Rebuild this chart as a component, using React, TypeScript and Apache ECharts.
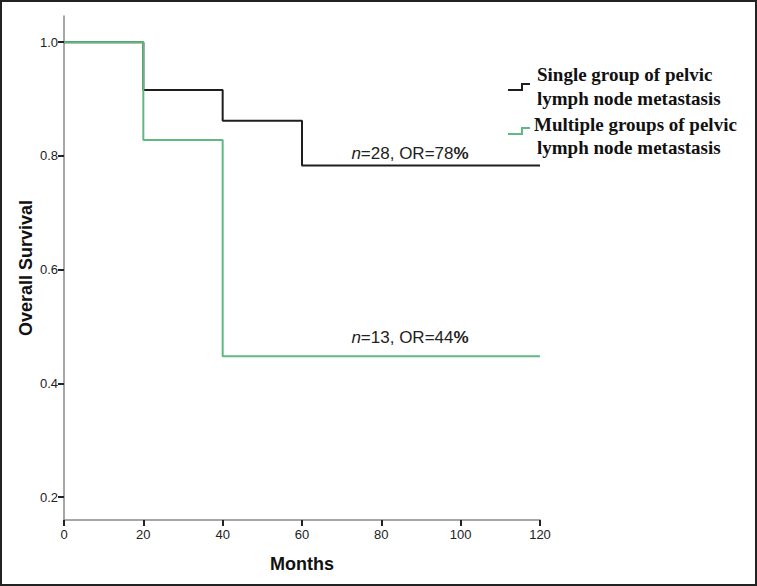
import React, { useEffect, useRef } from "react";
import * as echarts from "echarts";

const singleMonths = [0, 20, 40, 60, 120];
const singleSurvival = [1.0, 0.916, 0.862, 0.783, 0.783];
const multipleMonths = [0, 20, 40, 120];
const multipleSurvival = [1.0, 0.828, 0.448, 0.448];
const xTicks = [0, 20, 40, 60, 80, 100, 120];
const yTicks = [0.2, 0.4, 0.6, 0.8, 1.0];
const legendNames = [
  ["Single group of pelvic", "lymph node metastasis"],
  ["Multiple groups of pelvic", "lymph node metastasis"],
];
const annotations = [
  { n: "28", or: "78" },
  { n: "13", or: "44" },
];

const BLACK = "#1e1e1e";
const GREEN = "#62b883";

export default function App() {
  const ref = useRef<HTMLDivElement>(null);
  useEffect(() => {
    if (!ref.current) return;
    const chart = echarts.init(ref.current, null, { renderer: "svg" });
    const sans = "'Liberation Sans', Arial, sans-serif";
    const serif = "'Liberation Serif', 'Times New Roman', serif";
    const legendText = (t: string, x: number, y: number) => ({
      type: "text",
      x,
      y,
      style: { text: t, font: `bold 19px ${serif}`, fill: "#111", textVerticalAlign: "middle" },
    });
    const annot = (a: { n: string; or: string }, y: number) => ({
      type: "text",
      x: 410,
      y,
      style: {
        text: `{i|n}{r|=${a.n}, OR=${a.or}}{b|%}`,
        textAlign: "center",
        textVerticalAlign: "middle",
        rich: {
          i: { fontStyle: "italic", fontSize: 17, fontFamily: sans, fill: "#222" },
          r: { fontSize: 17, fontFamily: sans, fill: "#222" },
          b: { fontSize: 17, fontWeight: "bold", fontFamily: sans, fill: "#222" },
        },
      },
    });
    chart.setOption({
      animation: false,
      backgroundColor: "#fff",
      grid: { left: 64, right: 217, top: 16, bottom: 66, containLabel: false },
      xAxis: {
        type: "value",
        min: 0,
        max: 120,
        interval: 20,
        name: "Months",
        nameLocation: "middle",
        nameGap: 35,
        nameTextStyle: { fontFamily: sans, fontWeight: "bold", fontSize: 18, color: "#111" },
        axisLine: { lineStyle: { color: "#8a8a8a", width: 1.5 } },
        axisTick: { show: true, length: 6, lineStyle: { color: "#222", width: 2 } },
        axisLabel: { fontFamily: sans, fontSize: 13, color: "#222", margin: 8, customValues: xTicks },
        splitLine: { show: false },
      },
      yAxis: {
        type: "value",
        min: 0.16,
        max: 1.046,
        name: "Overall Survival",
        nameLocation: "middle",
        nameGap: 29,
        nameMoveOverlap: false,
        nameRotate: 90,
        nameTextStyle: { fontFamily: sans, fontWeight: "bold", fontSize: 18, color: "#111" },
        axisLine: { show: true, lineStyle: { color: "#8a8a8a", width: 1.5 } },
        axisTick: { show: true, length: 6, lineStyle: { color: "#222", width: 2 }, customValues: yTicks },
        axisLabel: {
          fontFamily: sans,
          fontSize: 13,
          color: "#222",
          margin: 6,
          customValues: yTicks,
          formatter: (v: number) => v.toFixed(1),
        },
        splitLine: { show: false },
      },
      series: [
        {
          name: "Single group of pelvic lymph node metastasis",
          type: "line",
          step: "end",
          symbol: "none",
          lineStyle: { color: BLACK, width: 2 },
          data: singleMonths.map((m, i) => [m, singleSurvival[i]]),
        },
        {
          name: "Multiple groups of pelvic lymph node metastasis",
          type: "line",
          step: "end",
          symbol: "none",
          lineStyle: { color: GREEN, width: 2 },
          data: multipleMonths.map((m, i) => [m, multipleSurvival[i]]),
        },
      ],
      graphic: [
        {
          type: "rect",
          shape: { x: 1, y: 1, width: 755, height: 584 },
          style: { fill: "none", stroke: "#222", lineWidth: 2 },
          silent: true,
        },
        {
          type: "polyline",
          shape: { points: [[508, 90], [522, 90], [522, 84], [530, 84]] },
          style: { stroke: BLACK, lineWidth: 2, fill: "none" },
        },
        {
          type: "polyline",
          shape: { points: [[508, 134], [522, 134], [522, 128], [530, 128]] },
          style: { stroke: GREEN, lineWidth: 2, fill: "none" },
        },
        legendText(legendNames[0][0], 537, 74),
        legendText(legendNames[0][1], 537, 98),
        legendText(legendNames[1][0], 534, 124),
        legendText(legendNames[1][1], 537, 147),
        annot(annotations[0], 153),
        annot(annotations[1], 337),
      ],
    });
    return () => chart.dispose();
  }, []);
  return (
    <div
      ref={ref}
      style={{ position: "fixed", left: 0, top: 0, width: 757, height: 586, background: "#fff" }}
    />
  );
}
